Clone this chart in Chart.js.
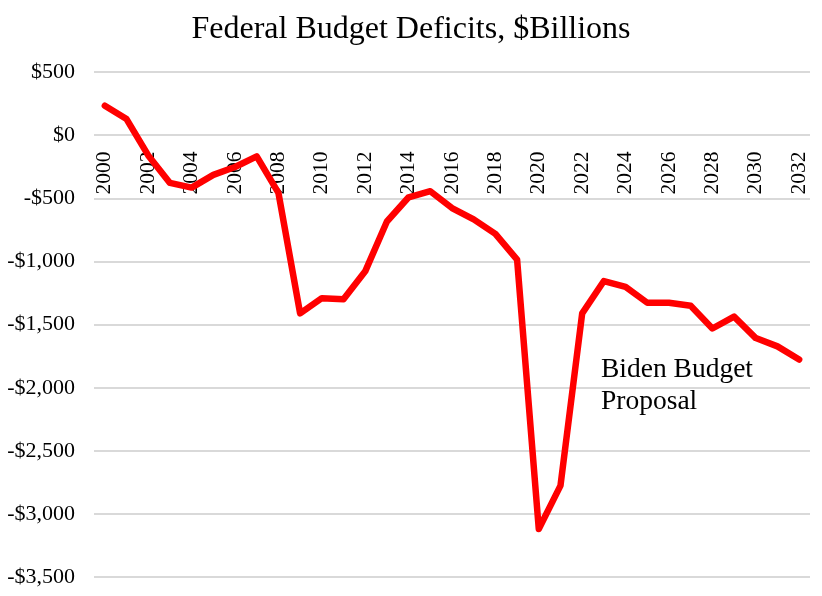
<!DOCTYPE html>
<html>
<head>
<meta charset="utf-8">
<title>Federal Budget Deficits</title>
<script src="https://cdn.jsdelivr.net/npm/chart.js@4.4.1/dist/chart.umd.min.js"></script>
<style>
  html, body { margin: 0; padding: 0; background: #fff; }
  #wrap { width: 822px; height: 596px; position: relative; }
</style>
</head>
<body>
<div id="wrap"><canvas id="deficitChart"></canvas></div>
<script>
// years on the category axis
const years = ['2000', '2001', '2002', '2003', '2004', '2005', '2006', '2007', '2008', '2009',
  '2010', '2011', '2012', '2013', '2014', '2015', '2016', '2017', '2018', '2019',
  '2020', '2021', '2022', '2023', '2024', '2025', '2026', '2027', '2028', '2029',
  '2030', '2031', '2032']

// deficit in $ billions
const deficits = [236, 130, -158, -376, -413, -312, -250, -165, -455, -1410,
  -1290, -1298, -1077, -682, -490, -442, -575, -665, -780, -984,
  -3120, -2776, -1410, -1154, -1200, -1326, -1326, -1350, -1530, -1436,
  -1606, -1672, -1776]

// labels shown on the x axis (every other year)
const xTickLabels = ['2000', '2002', '2004', '2006', '2008', '2010', '2012', '2014', '2016',
  '2018', '2020', '2022', '2024', '2026', '2028', '2030', '2032']

// y axis tick values
const yTickValues = [500, 0, -500, -1000, -1500, -2000, -2500, -3000, -3500]

const noteLines = ['Biden Budget', 'Proposal']

const serif = "'Liberation Serif', 'Times New Roman', serif"

function dollars(v) {
  const s = '$' + Math.abs(v).toLocaleString('en-US')
  return v < 0 ? '-' + s : s
}

// text note inside the plot
const notePlugin = {
  id: 'note',
  afterDatasetsDraw(chart) {
    const ctx = chart.ctx
    ctx.save()
    ctx.font = '27.5px ' + serif
    ctx.fillStyle = '#000'
    ctx.textAlign = 'left'
    ctx.textBaseline = 'alphabetic'
    noteLines.forEach((t, i) => {
      ctx.fillText(t, 601, 377 + i * 32)
    })
    ctx.restore()
  }
}

const config = {
  type: 'line',
  data: {
    labels: years,
    datasets: [{
      label: 'Deficit',
      data: deficits,
      yAxisID: 'y',
      borderColor: '#ff0000',
      borderWidth: 6.5,
      borderJoinStyle: 'round',
      borderCapStyle: 'round',
      pointRadius: 0,
      tension: 0,
      fill: false
    }]
  },
  options: {
    responsive: true,
    maintainAspectRatio: false,
    animation: false,
    layout: { padding: { left: 0, right: 0, top: 0, bottom: 19 } },
    plugins: {
      legend: { display: false },
      tooltip: { enabled: false },
      title: {
        display: true,
        text: 'Federal Budget Deficits, $Billions',
        color: '#000',
        font: { family: serif, size: 32, weight: 'normal' },
        padding: { top: 10, bottom: 24 }
      }
    },
    scales: {
      x: {
        type: 'category',
        position: { y: 0 },
        offset: true,
        grid: { display: false },
        border: { display: false },
        afterFit: (scale) => {
          scale.paddingLeft = 0
          scale.paddingRight = 0
          scale.paddingTop = 0
          scale.paddingBottom = 0
        },
        ticks: {
          autoSkip: false,
          maxRotation: 90,
          minRotation: 90,
          padding: 8,
          color: '#000',
          font: { family: serif, size: 21.5 },
          callback: function (val, i) {
            const lab = this.getLabelForValue(val)
            return xTickLabels.includes(lab) ? lab : ''
          }
        }
      },
      y: {
        min: -3500,
        max: 500,
        afterBuildTicks: (scale) => {
          scale.ticks = yTickValues.map(v => ({ value: v }))
        },
        afterFit: (scale) => {
          scale.width = 94
          scale.paddingTop = 0
          scale.paddingBottom = 0
        },
        grid: { color: '#d9d9d9', lineWidth: 2, drawTicks: false },
        border: { display: false },
        ticks: {
          padding: 19,
          color: '#000',
          font: { family: serif, size: 22 },
          callback: (v) => dollars(v)
        }
      },
      // empty strip on the right so the plot ends where the original does
      yRight: {
        position: 'right',
        grid: { display: false, drawTicks: false },
        border: { display: false },
        ticks: { display: false },
        afterFit: (scale) => {
          scale.width = 12
          scale.paddingTop = 0
          scale.paddingBottom = 0
        }
      }
    }
  },
  plugins: [notePlugin]
}

const myChart = new Chart(document.getElementById('deficitChart'), config)
</script>
</body>
</html>
